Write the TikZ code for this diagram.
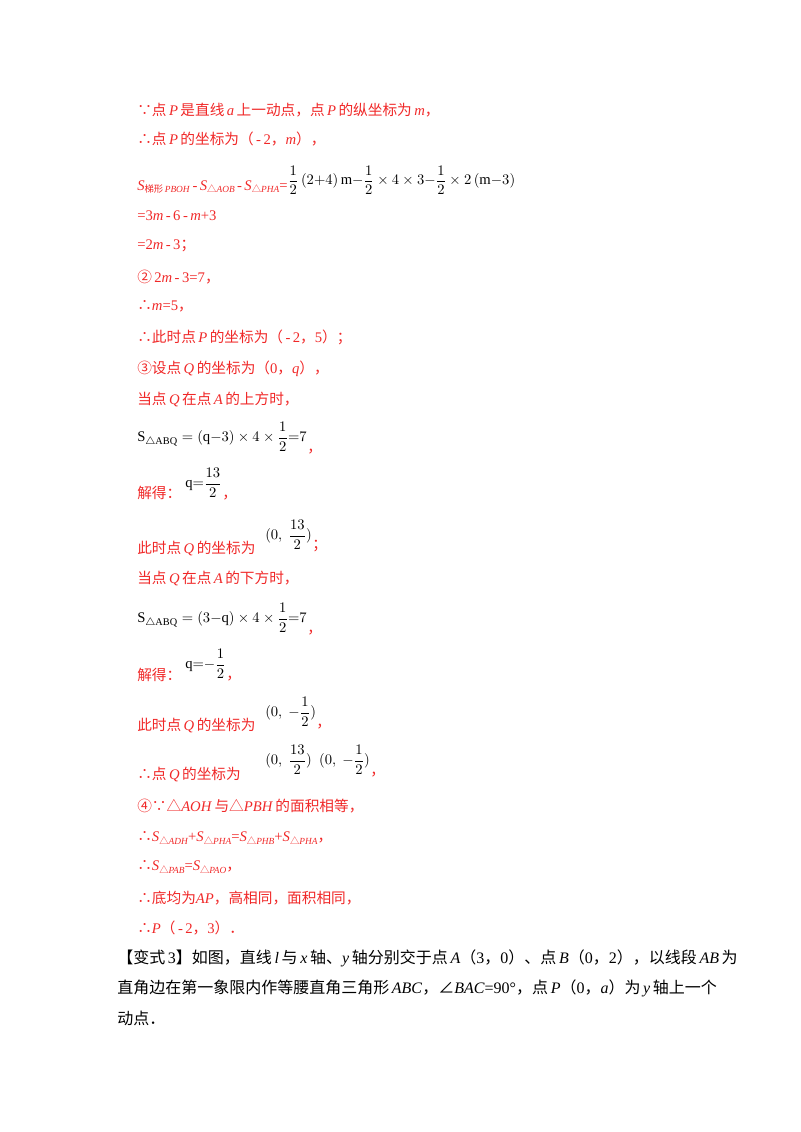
\documentclass[tikz,border=0pt]{standalone}
\usepackage{amsmath}
\usepackage{fontspec}
\setmainfont{Liberation Serif}
\newfontfamily\cjk{Noto Sans CJK SC}
\definecolor{rd}{RGB}{240,40,40}
\newcommand{\zh}[1]{{\cjk #1}}
\newcommand{\tri}{{\cjk △}}
\begin{document}
\begin{tikzpicture}[x=0.75pt,y=-0.75pt,
  L/.style={anchor=west,inner sep=0pt,text=rd,font=\fontsize{11}{13}\selectfont},
  K/.style={anchor=west,inner sep=0pt,text=black,font=\fontsize{11}{13}\selectfont},
  V/.style={anchor=west,inner sep=0pt,text=black,font=\fontsize{12}{14}\selectfont}]
\useasboundingbox (0,0) rectangle (800,1132);
\node[L] (l1) at (137,110) {\zh{∵点}\,\textit{P}\,\zh{是直线}\,\textit{a}\,\zh{上一动点，点}\,\textit{P}\,\zh{的纵坐标为}\,\textit{m}\zh{，}};
\node[L] (l2) at (137,139) {\zh{∴点}\,\textit{P}\,\zh{的坐标为（}\,-\,2\zh{，}\textit{m}\zh{），}};
\node[L] (l3) at (137,187) {\textit{S}\raisebox{-2pt}{\scriptsize\zh{梯形}\,\textit{PBOH}}\,-\,\textit{S}\raisebox{-2pt}{\scriptsize\tri\textit{AOB}}\,-\,\textit{S}\raisebox{-2pt}{\scriptsize\tri\textit{PHA}}=};
\node[K,anchor=south west] (f3) at ([yshift=-1pt]l3.south east) {$\dfrac{1}{2}\,(2{+}4)\,\mathrm{m}{-}\dfrac{1}{2}\times4\times3{-}\dfrac{1}{2}\times2\,(\mathrm{m}{-}3)$};
\node[L] (l4) at (137,216) {=3\textit{m}\,-\,6\,-\,\textit{m}+3};
\node[L] (l5) at (137,246) {=2\textit{m}\,-\,3\zh{；}};
\node[L] (l6) at (137,277) {\zh{②}\,2\textit{m}\,-\,3=7\zh{，}};
\node[L] (l7) at (137,306) {\zh{∴}\textit{m}=5\zh{，}};
\node[L] (l8) at (137,337) {\zh{∴此时点}\,\textit{P}\,\zh{的坐标为（}\,-\,2\zh{，}5\zh{）；}};
\node[L] (l9) at (137,369) {\zh{③设点}\,\textit{Q}\,\zh{的坐标为（}0\zh{，}\textit{q}\zh{），}};
\node[L] (l10) at (137,399) {\zh{当点}\,\textit{Q}\,\zh{在点}\,\textit{A}\,\zh{的上方时，}};
\node[K] (l11) at (137,437) {$\mathrm{S}_{\triangle\mathrm{ABQ}}=(\mathrm{q}{-}3)\times4\times\dfrac{1}{2}{=}7$};
\node[L,anchor=south west] (c11) at ([yshift=-2pt]l11.south east) {\zh{，}};
\node[L] (l12) at (137,493) {\zh{解得：}};
\node[K] (f12) at (185,483) {$\mathrm{q}{=}\dfrac{13}{2}$};
\node[L,anchor=south west] at ([yshift=-2pt]f12.south east) {\zh{，}};
\node[L] (l13) at (137,548) {\zh{此时点}\,\textit{Q}\,\zh{的坐标为}};
\node[K] (f13) at (265,535) {$(0,\ \dfrac{13}{2})$};
\node[L,anchor=south west] at ([yshift=-2pt]f13.south east) {\zh{；}};
\node[L] (l14) at (137,578) {\zh{当点}\,\textit{Q}\,\zh{在点}\,\textit{A}\,\zh{的下方时，}};
\node[K] (l15) at (137,618) {$\mathrm{S}_{\triangle\mathrm{ABQ}}=(3{-}\mathrm{q})\times4\times\dfrac{1}{2}{=}7$};
\node[L,anchor=south west] at ([yshift=-2pt]l15.south east) {\zh{，}};
\node[L] (l16) at (137,675) {\zh{解得：}};
\node[K] (f16) at (185,664) {$\mathrm{q}{=}{-}\dfrac{1}{2}$};
\node[L,anchor=south west] at ([yshift=-2pt]f16.south east) {\zh{，}};
\node[L] (l17) at (137,725) {\zh{此时点}\,\textit{Q}\,\zh{的坐标为}};
\node[K] (f17) at (265,712) {$(0,\ {-}\dfrac{1}{2})$};
\node[L,anchor=south west] at ([yshift=-2pt]f17.south east) {\zh{，}};
\node[L] (l18) at (137,774) {\zh{∴点}\,\textit{Q}\,\zh{的坐标为}};
\node[K] (f18) at (265,760) {$(0,\ \dfrac{13}{2})\ \ (0,\ {-}\dfrac{1}{2})$};
\node[L,anchor=south west] at ([yshift=-2pt]f18.south east) {\zh{，}};
\node[L] (l19) at (137,806) {\zh{④∵}\tri\textit{AOH}\,\zh{与}\tri\textit{PBH}\,\zh{的面积相等，}};
\node[L] (l20) at (137,838) {\zh{∴}\textit{S}\raisebox{-2pt}{\scriptsize\tri\textit{ADH}}+\textit{S}\raisebox{-2pt}{\scriptsize\tri\textit{PHA}}=\textit{S}\raisebox{-2pt}{\scriptsize\tri\textit{PHB}}+\textit{S}\raisebox{-2pt}{\scriptsize\tri\textit{PHA}}\zh{，}};
\node[L] (l21) at (137,867) {\zh{∴}\textit{S}\raisebox{-2pt}{\scriptsize\tri\textit{PAB}}=\textit{S}\raisebox{-2pt}{\scriptsize\tri\textit{PAO}}\zh{，}};
\node[L] (l22) at (137,898) {\zh{∴底均为}\textit{AP}\zh{，高相同，面积相同，}};
\node[L] (l23) at (137,928) {\zh{∴}\textit{P}\zh{（}\,-\,2\zh{，}3\zh{）．}};
\node[V] (v1) at (117,958) {\zh{【变式}\,3\zh{】如图，直线}\,\textit{l}\,\zh{与}\,\textit{x}\,\zh{轴、}\textit{y}\,\zh{轴分别交于点}\,\textit{A}\zh{（}3\zh{，}0\zh{）、点}\,\textit{B}\zh{（}0\zh{，}2\zh{），以线段}\,\textit{AB}\,\zh{为}};
\node[V] (v2) at (117,988) {\zh{直角边在第一象限内作等腰直角三角形}\,\textit{ABC}\zh{，∠}\textit{BAC}=90°\zh{，点}\,\textit{P}\zh{（}0\zh{，}\textit{a}\zh{）为}\,\textit{y}\,\zh{轴上一个}};
\node[V] (v3) at (117,1018) {\zh{动点．}};
\end{tikzpicture}
\end{document}
